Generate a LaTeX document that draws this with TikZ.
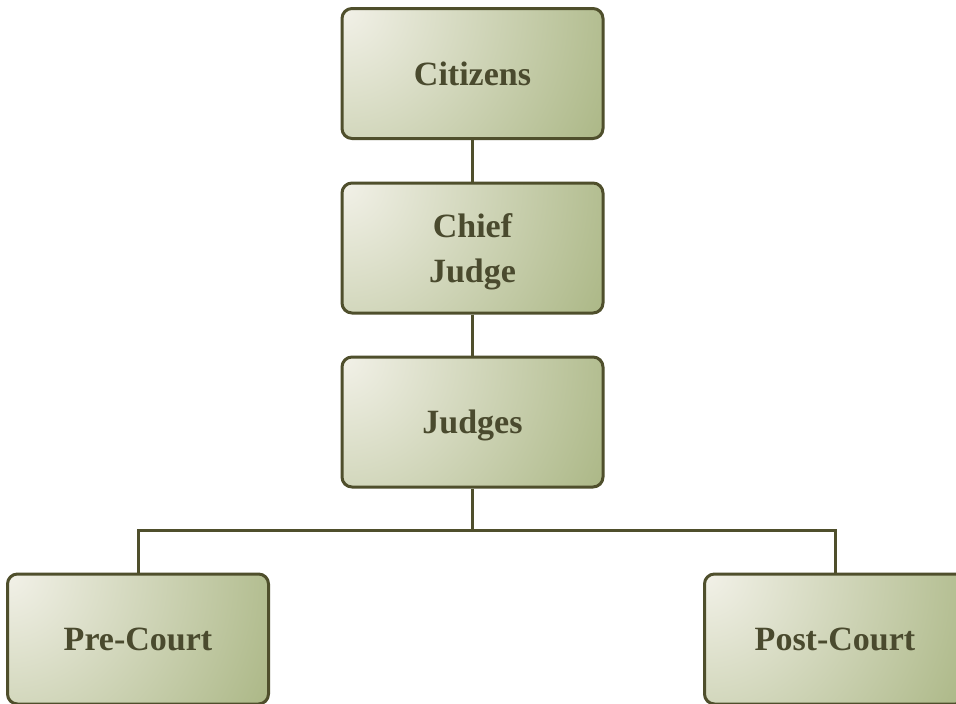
\documentclass[tikz,border=0pt]{standalone}
\usepackage{fontspec}
\setmainfont{Liberation Serif}
\definecolor{boxline}{HTML}{4F4F2C}
\definecolor{txt}{HTML}{4A4A2E}
\definecolor{hl}{HTML}{F2F1E8}
\definecolor{olivetwo}{HTML}{A0AE76}
\begin{document}
\begin{tikzpicture}[x=1pt,y=-1pt,
  box/.style={draw=boxline, line width=3pt, rounded corners=10pt,
    minimum width=261pt, minimum height=130pt, inner sep=0pt, text depth=0pt,
    font=\bfseries\fontsize{34}{45}\selectfont, text=txt, align=center,
    path picture={\shade[inner color=hl, outer color=olivetwo]
      (path picture bounding box.north west) circle (340pt);}},
  conn/.style={draw=boxline, line width=3pt}]
\useasboundingbox[fill=white] (0,0) rectangle (956,704);
\node[box] (cit) at (472.5,73.5) {Citizens};
\node[box] (chief) at (472.5,248) {Chief\\Judge};
\node[box] (judges) at (472.5,422) {Judges};
\node[box] (pre) at (138,639) {Pre-Court};
\node[box] (post) at (835,639) {Post-Court};
\coordinate (split) at (472.5,530);
\draw[conn] (cit) -- (chief);
\draw[conn] (chief) -- (judges);
\draw[conn] (judges) -- (split);
\draw[conn] (pre.north) |- (split) -| (post.north);
\end{tikzpicture}
\end{document}
